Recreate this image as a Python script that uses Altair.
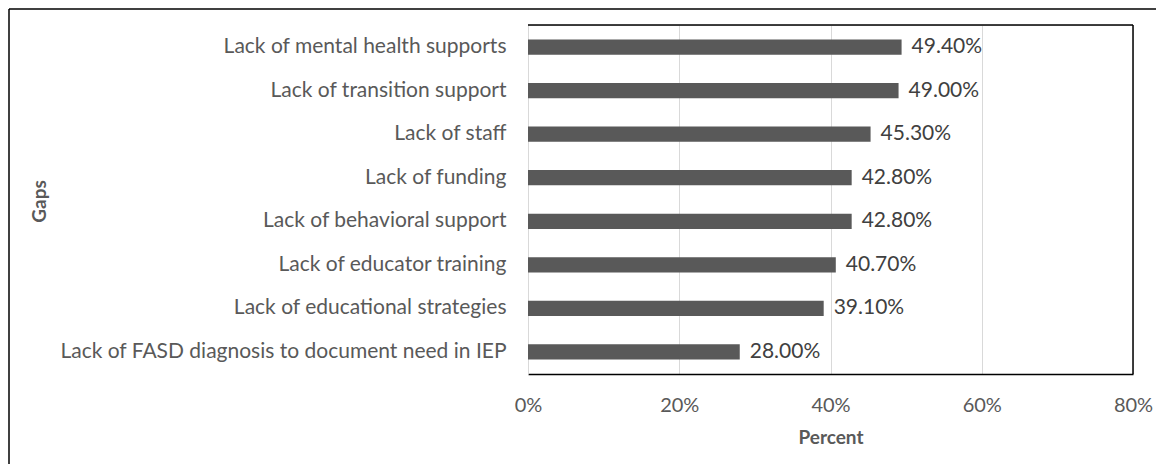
import altair as alt
import pandas as pd

categories = [
    "Lack of mental health supports",
    "Lack of transition support",
    "Lack of staff",
    "Lack of funding",
    "Lack of behavioral support",
    "Lack of educator training",
    "Lack of educational strategies",
    "Lack of FASD diagnosis to document need in IEP",
]
values = [49.4, 49.0, 45.3, 42.8, 42.8, 40.7, 39.1, 28.0]
x_ticks = [0, 20, 40, 60, 80]

df = pd.DataFrame({"Gap": categories, "Percent": values})
df["label"] = [f"{v:.2f}%" for v in values]

FONT = "Lato"
GREY = "#595959"

y_enc = alt.Y(
    "Gap:N",
    sort=categories,
    title="Gaps",
    scale=alt.Scale(paddingInner=0.65, paddingOuter=0.33),
    axis=alt.Axis(
        labelFont=FONT, labelFontSize=21, labelColor=GREY, labelPadding=22,
        ticks=False, domainColor="#d9d9d9", labelLimit=600,
        titleFont=FONT, titleFontSize=19, titleFontWeight="bold", titleColor=GREY,
        titleX=-479, titleY=176, titleAngle=-90,
    ),
)
x_enc = alt.X(
    "Percent:Q",
    title="Percent",
    scale=alt.Scale(domain=[0, 80], nice=False),
    axis=alt.Axis(
        values=x_ticks, labelExpr="datum.value + '%'", labelFlush=False,
        labelFont=FONT, labelFontSize=20, labelColor=GREY, labelPadding=21,
        ticks=False, domainColor="black", domainWidth=1.5,
        grid=True, gridColor="#d9d9d9", gridWidth=1,
        titleFont=FONT, titleFontSize=19, titleFontWeight="bold", titleColor=GREY,
        titlePadding=13,
    ),
)

bars = alt.Chart(df).mark_bar(color=GREY).encode(x=x_enc, y=y_enc)
labels = alt.Chart(df).mark_text(
    align="left", baseline="middle", dx=10, font=FONT, fontSize=21, color="#404040"
).encode(x="Percent:Q", y=alt.Y("Gap:N", sort=categories), text="label:N")

one = pd.DataFrame({"a": [0]})
frame_top = alt.Chart(one).mark_rule(color="black", strokeWidth=1.5).encode(
    x=alt.value(0), x2=alt.value(605), y=alt.value(0)
)
frame_right = alt.Chart(one).mark_rule(color="black", strokeWidth=1.5).encode(
    x=alt.value(605), y=alt.value(0), y2=alt.value(349)
)
left_border = alt.Chart(one).mark_rule(color="black", strokeWidth=1.5).encode(
    x=alt.value(-519), y=alt.value(-16), y2=alt.value(439)
)
top_border = alt.Chart(one).mark_rule(color="black", strokeWidth=1.5).encode(
    x=alt.value(-519), x2=alt.value(628), y=alt.value(-16)
)

chart = (
    alt.layer(bars, labels, frame_top, frame_right, left_border, top_border)
    .properties(
        width=605,
        height=349,
        padding={"left": 520, "top": 17, "right": 23, "bottom": 90},
        autosize=alt.AutoSizeParams(type="none"),
    )
    .configure_view(strokeWidth=0)
    .configure(background="white")
)

chart.save("out.html", embed_options={"renderer": "svg", "actions": False})
